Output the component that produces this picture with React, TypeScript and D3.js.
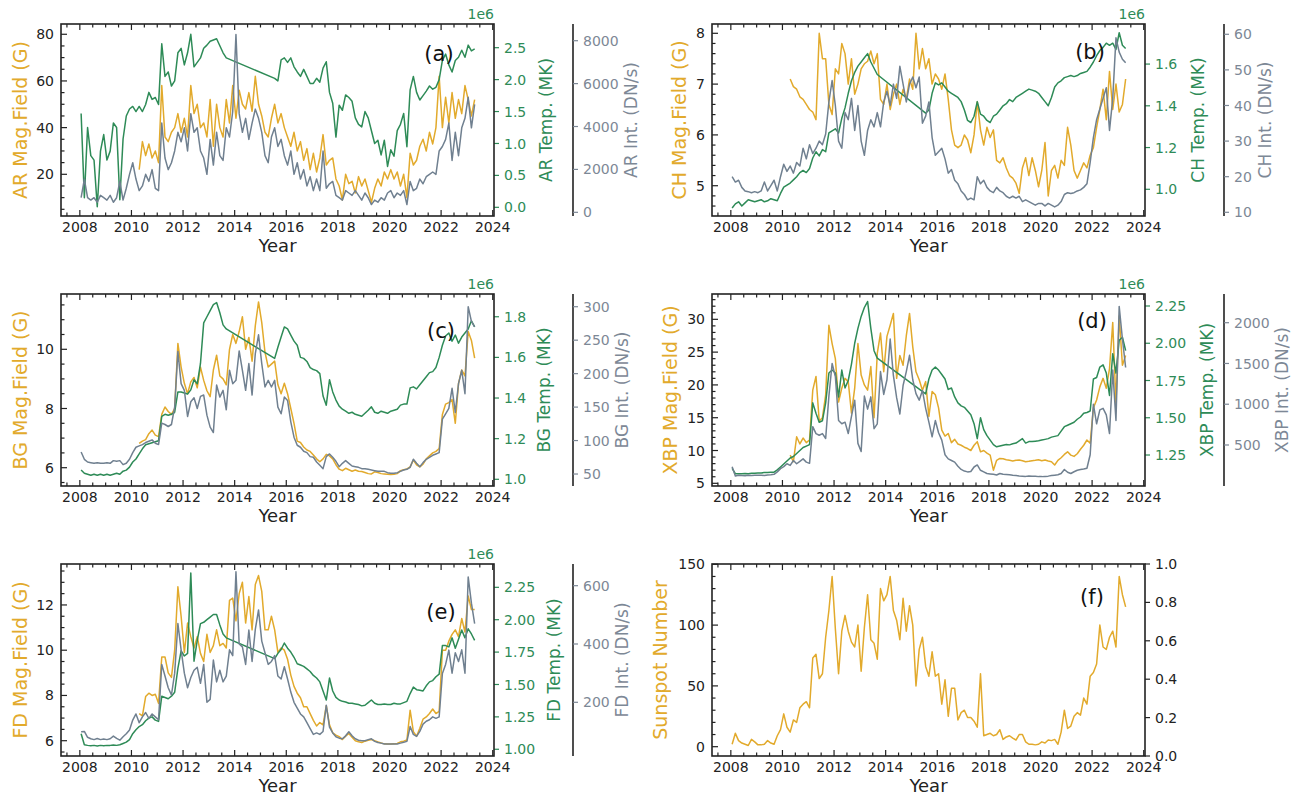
import React from 'react';
import * as d3 from 'd3';

// every series is sampled on the same 1.5-month grid
const T0 = 2008.05;
const MAG_T0 = 2010.3;
const STEP = 0.125;

const yearTicks = [2008, 2010, 2012, 2014, 2016, 2018, 2020, 2022, 2024];

// ---------- (a) active regions
const arMag = [
  22, 34, 28, 33, 27, 30,
  25, 58, 36, 34, 38, 40, 46, 38,
  44, 36, 58, 46, 50, 40, 42, 36,
  52, 32, 50, 40, 36, 52, 42, 58,
  44, 56, 50, 48, 55, 47, 62, 50,
  45, 38, 36, 44, 50, 42, 46, 40,
  36, 32, 38, 30, 34, 26, 31, 22,
  29, 21, 27, 37, 24, 26, 27, 18,
  15, 9, 20, 16, 17, 12, 19, 15,
  18, 13, 8, 14, 18, 15, 21, 18,
  22, 18, 21, 15, 20, 10, 29, 24,
  26, 32, 35, 30, 38, 33, 40, 62,
  40, 53, 42, 55, 44, 52, 46, 58,
  52, 45, 52,
];
const arTemp = [
  1.47, 0.15, 1.25, 0.81, 0.74, 0.01, 0.88, 1.14,
  0.74, 0.88, 1.32, 1.25, 0.12, 1.07, 1.43, 1.54,
  1.58, 1.5, 1.58, 1.5, 1.61, 1.8, 1.69, 1.72,
  1.61, 2.56, 2.05, 2.12, 1.9, 1.98, 2.42, 2.49,
  2.23, 2.42, 2.71, 2.2, 2.27, 2.34, 2.49, 2.54,
  2.6, 2.62, 2.64, 2.53, 2.42, 2.34, null, null,
  null, null, null, null, null, null, null, null,
  null, null, null, null, 2.02, 1.98, 2.31, 2.34,
  2.27, 2.34, 2.2, 2.12, 2.05, 2.16, 2.05, 1.94,
  1.94, 2.02, 1.96, 2.18, 2.28, 1.8, 1.63, 1.1,
  1.6, 1.52, 1.76, 1.72, 1.66, 1.4, 1.3, 1.26,
  1.5, 1.4, 1.2, 1.0, 1.05, 0.82, 1.05, 0.64,
  0.9, 0.8, 1.2, 1.3, 1.47, 0.95, 1.84, 2.05,
  1.8, 1.68, 1.75, 1.82, 1.9, 1.85, 1.88, 2.0,
  2.3, 2.4, 2.23, 2.12, 2.3, 2.35, 2.46, 2.35,
  2.54, 2.45, 2.48,
];
const arInt = [
  680, 1550, 680, 570, 680, 470, 790, 680,
  570, 790, 470, 680, 1440, 570, 1120, 1770,
  2310, 1550, 1010, 1230, 1770, 1440, 1990, 1120,
  1010, 4160, 2530, 1990, 2310, 2860, 3730, 3290,
  3940, 2860, 4600, 3730, 3940, 2860, 2530, 1770,
  3400, 2200, 3730, 2640, 2420, 3940, 3510, 4700,
  8290, 4600, 3730, 4380, 3400, 4160, 4810, 4380,
  3730, 2640, 2310, 3510, 3940, 3070, 3400, 2640,
  2200, 2860, 1770, 2310, 1550, 1990, 1230, 1660,
  1010, 1550, 1010, 2860, 1120, 1330, 1440, 790,
  680, 570, 1010, 900, 790, 1010, 790, 570,
  900, 680, 360, 570, 470, 680, 570, 900,
  1010, 680, 900, 790, 1010, 360, 1440, 1010,
  1120, 1550, 1330, 1660, 1770, 1880, 1770, 2860,
  3070, 3400, 4160, 2420, 3730, 2640, 3940, 4380,
  5360, 3940, 5030,
];

// ---------- (b) coronal holes
const chMag = [
  7.1, 6.95, 6.9, 6.75, 6.7, 6.6,
  6.5, 6.45, 6.3, 8.0, 7.5, 7.5, 6.6, 6.4,
  7.3, 7.2, 7.8, 7.6, 7.0, 7.5, 6.8, 7.0,
  7.3, 7.4, 7.45, 7.65, 7.4, 7.6, 6.7, 6.6,
  7.0, 6.5, 6.8, 7.0, 6.6, 6.9, 6.7, 7.1,
  6.9, 8.0, 7.3, 7.7, 7.3, 7.5, 7.0, 7.2,
  7.1, 6.9, 7.2, 6.7, 6.1, 5.8, 5.75, 5.8,
  6.0, 5.9, 5.65, 6.0, 6.65, 6.1, 5.8, 6.15,
  5.95, 6.1, 5.5, 5.45, 5.55, 5.35, 5.2, 5.15,
  5.05, 4.85, 5.35, 5.55, 5.2, 5.55, 5.3, 4.98,
  5.3, 5.85, 4.8, 5.3, 5.4, 5.15, 5.5, 5.4,
  6.15, 5.8, 5.3, 5.15, 5.3, 5.45, 5.35, 5.6,
  5.75, 6.15, 6.5, 6.9, 6.3, 7.25, 6.5, 7.0,
  6.45, 6.6, 7.1,
];
const chTemp = [
  0.91, 0.93, 0.94, 0.92, 0.935, 0.95, 0.945, 0.94,
  0.945, 0.95, 0.94, 0.945, 0.955, 0.95, 0.945, 0.98,
  1.01, 1.02, 1.03, 1.045, 1.06, 1.08, 1.09, 1.08,
  1.1, 1.15, 1.18, 1.16, 1.19, 1.18, 1.27, 1.28,
  1.29, 1.27, 1.34, 1.39, 1.46, 1.52, 1.56, 1.59,
  1.61, 1.63, 1.65, 1.61, 1.58, 1.55, null, null,
  null, null, null, null, null, null, null, null,
  null, null, null, null, 1.365, 1.38, 1.46, 1.51,
  1.5, 1.51, 1.49, 1.47, 1.46, 1.45, 1.44, 1.42,
  1.38, 1.33, 1.32, 1.35, 1.42, 1.36, 1.35, 1.33,
  1.32, 1.35, 1.36, 1.38, 1.4, 1.41, 1.43, 1.42,
  1.44, 1.45, 1.46, 1.47, 1.48, 1.475, 1.47, 1.46,
  1.44, 1.42, 1.4, 1.44, 1.49, 1.51, 1.52, 1.535,
  1.54, 1.545, 1.54, 1.545, 1.555, 1.56, 1.565, 1.585,
  1.61, 1.64, 1.665, 1.68, 1.7, 1.69, 1.7, 1.67,
  1.75, 1.69, 1.675,
];
const chInt = [
  20, 18.5, 19, 17, 16, 15.8, 15.5, 15.8,
  15.5, 16, 18.5, 16, 17.5, 19, 16, 20,
  23.5, 21.5, 23, 21, 24, 23, 28, 25,
  29, 26.5, 28, 30, 29, 32, 41, 47,
  40, 30, 28, 38, 36, 42, 33, 40,
  30, 26, 33, 36, 34, 38, 34, 41,
  44, 40, 46, 42, 51, 46, 41, 46,
  48, 45, 48, 35, 37, 41, 31, 26,
  27, 28, 25, 21, 22, 19, 18, 16,
  15, 13.5, 14, 13.5, 20, 18, 19, 17,
  16, 15.5, 17, 16, 15.5, 14.5, 14, 14.5,
  14, 14.5, 13, 13.5, 13, 12.5, 12, 12.5,
  12.5, 11.8, 12.5, 12, 11.5, 12, 13, 15,
  15.5, 15.3, 15.5, 16, 16.3, 17, 18, 24,
  31, 36, 39, 42, 45, 33, 42, 59,
  55, 53, 52,
];

// ---------- (c) background
const bgMag = [
  6.82, 6.9, 6.95, 7.15, 7.27, 7.1,
  7.05, 7.8, 8.05, 7.9, 7.8, 8.0, 10.2, 9.4,
  8.85, 8.5, 8.9, 9.05, 8.7, 9.4, 8.95, 8.6,
  8.4, 9.3, 9.8, 9.1, 9.0, 8.8, 10.0, 10.5,
  10.2, 10.6, 11.1, 10.0, 10.4, 9.6, 10.8, 11.6,
  10.9, 9.9, 9.4, 9.5, 9.6, 8.8, 8.5, 8.85,
  8.5, 8.0, 7.5, 6.9, 6.85, 6.7, 6.6, 6.55,
  6.43, 6.3, 6.2, 6.3, 6.45, 6.4, 6.3, 6.1,
  5.95, 5.9, 5.98, 5.93, 5.88, 5.92, 5.88, 5.87,
  5.84, 5.8, 5.79, 5.86, 5.84, 5.8, 5.79, 5.78,
  5.77, 5.78, 5.8, 5.9, 5.93, 5.96, 6.03, 6.26,
  6.1, 6.03, 6.12, 6.3, 6.4, 6.5, 6.55, 6.65,
  7.8, 8.15, 8.2, 8.3, 7.5, 8.85, 9.3, 9.1,
  10.6, 10.3, 9.7,
];
const bgTemp = [
  1.046, 1.03, 1.025, 1.02, 1.025, 1.02, 1.025, 1.02,
  1.025, 1.02, 1.025, 1.03, 1.025, 1.04, 1.045, 1.06,
  1.085, 1.1, 1.125, 1.15, 1.17, 1.175, 1.18, 1.185,
  1.19, 1.31, 1.32, 1.315, 1.32, 1.33, 1.43, 1.43,
  1.425, 1.42, 1.44, 1.49, 1.47, 1.57, 1.77, 1.8,
  1.83, 1.86, 1.87, 1.82, 1.76, 1.74, null, null,
  null, null, null, null, null, null, null, null,
  null, null, null, null, 1.595, 1.65, 1.7, 1.75,
  1.74, 1.71, 1.68, 1.66, 1.6, 1.595, 1.58, 1.55,
  1.54, 1.535, 1.52, 1.41, 1.365, 1.49, 1.43, 1.39,
  1.36, 1.345, 1.335, 1.325, 1.33, 1.32, 1.315, 1.31,
  1.325, 1.34, 1.357, 1.33, 1.325, 1.335, 1.33, 1.325,
  1.335, 1.34, 1.345, 1.365, 1.37, 1.37, 1.45, 1.455,
  1.445, 1.465, 1.485, 1.505, 1.525, 1.53, 1.55, 1.6,
  1.66, 1.705, 1.72, 1.68, 1.71, 1.67, 1.7, 1.72,
  1.74, 1.78, 1.75,
];
const bgInt = [
  83, 72, 68, 67, 66, 67, 66, 66,
  67, 66, 70, 69, 70, 64, 66, 72,
  82, 90, 92, 94, 97, 99, 101, 96,
  94, 126, 124, 121, 124, 150, 233, 185,
  175, 136, 158, 164, 148, 166, 168, 138,
  120, 112, 183, 165, 175, 146, 205, 185,
  190, 234, 205, 175, 215, 168, 230, 258,
  215, 180, 190, 180, 190, 150, 140, 165,
  160, 128, 105, 93, 90, 84, 82, 76,
  75, 68, 63, 58, 76, 80, 75, 69,
  61, 66, 70, 66, 62, 61, 60, 58,
  58, 57, 56, 55, 54, 54, 54, 52,
  51, 51, 52, 54, 56, 57, 60, 72,
  66, 61, 67, 72, 75, 78, 80, 82,
  132, 140, 148, 178, 142, 185, 205, 170,
  300, 278, 270,
];

// ---------- (d) X-ray bright points
const xbpMag = [
  9.3, 8.3, 12.1, 11.0, 11.9, 11.2,
  11.6, 19.2, 21.3, 14.5, 15.0, 18.5, 29.1, 26.3,
  24.0, 17.4, 19.5, 21.0, 20.5, 15.7, 19.5, 26.3,
  21.5, 20.0, 19.2, 22.8, 15.0, 24.8, 27.9, 22.0,
  27.4, 29.1, 30.9, 21.0, 24.5, 23.0, 27.5, 30.9,
  25.8, 22.0, 20.8, 19.2, 20.5, 15.2, 19.0, 18.5,
  16.5, 13.1, 12.2, 12.6, 11.2, 11.7, 11.0, 10.8,
  10.5, 10.3, 10.0, 10.8, 11.35, 9.8, 10.0, 9.6,
  9.3, 7.0, 8.5, 8.8, 8.75, 8.6, 8.5, 8.4,
  8.5, 8.55, 8.45, 8.3, 8.35, 8.45, 8.5, 8.6,
  8.45, 8.55, 8.4, 8.3, 7.8, 8.5, 8.9, 9.4,
  9.8, 9.3, 9.1, 9.5, 10.2, 10.8, 11.6, 11.1,
  16.5, 17.7, 19.7, 21.0, 19.5, 22.5, 29.5, 17.2,
  30.5, 23.0, 24.5,
];
const xbpTemp = [
  1.16, 1.125, 1.125, 1.125, 1.126, 1.125, 1.127, 1.128,
  1.13, 1.13, 1.132, 1.133, 1.135, 1.135, 1.15, 1.17,
  1.19, 1.21, 1.23, 1.24, 1.26, 1.28, 1.3, 1.31,
  1.32, 1.6, 1.53, 1.47, 1.48, 1.6, 1.8, 1.82,
  1.8, 1.64, 1.82, 1.7, 1.75, 1.86, 2.0, 2.1,
  2.18, 2.24, 2.28, 2.1, 1.95, 1.9, null, null,
  null, null, null, null, null, null, null, null,
  null, null, null, null, 1.66, 1.76, 1.82, 1.84,
  1.82, 1.79, 1.76, 1.69, 1.7, 1.64, 1.6, 1.58,
  1.57, 1.545, 1.52, 1.46, 1.36, 1.5, 1.42, 1.38,
  1.35, 1.32, 1.305, 1.31, 1.315, 1.32, 1.318, 1.325,
  1.33, 1.345, 1.36, 1.33, 1.34, 1.34, 1.343, 1.345,
  1.35, 1.355, 1.36, 1.37, 1.375, 1.38, 1.41, 1.44,
  1.45, 1.46, 1.47, 1.49, 1.505, 1.53, 1.535, 1.545,
  1.76, 1.77, 1.84, 1.855, 1.8, 1.65, 1.93, 1.8,
  2.02, 2.04, 1.95,
];
const xbpInt = [
  234, 120, 130, 125, 122, 128, 125, 130,
  128, 130, 126, 132, 135, 140, 170, 210,
  234, 270, 250, 310, 270, 300, 330, 290,
  275, 725, 640, 620, 640, 580, 1100, 1500,
  1340, 800, 760, 780, 640, 850, 1050, 520,
  420, 1100, 940, 1090, 700, 760, 1400, 1120,
  1300, 1800, 1350, 1080, 880, 1230, 1400, 1600,
  1300, 1130, 1050, 1170, 950, 780, 600, 800,
  650, 560, 380, 330, 310, 290, 240, 200,
  180, 170, 175, 230, 255, 190, 170, 150,
  145, 140, 132, 150, 140, 138, 135, 128,
  125, 120, 118, 115, 120, 117, 118, 112,
  112, 115, 118, 125, 130, 135, 150, 200,
  165, 150, 172, 190, 200, 205, 215, 380,
  1000, 760, 930, 950, 870, 640, 1420, 800,
  2200, 1800, 1450,
];

// ---------- (e) full disk
const fdMag = [
  7.2, 7.1, 7.95, 8.1, 8.0, 8.05,
  7.65, 9.7, 9.7, 9.0, 8.8, 10.0, 12.8, 11.5,
  9.9, 11.2, 10.6, 10.1, 10.6, 9.86, 9.5, 10.7,
  9.9, 10.2, 10.9, 10.2, 10.3, 10.1, 12.2, 12.3,
  11.3, 12.5, 13.0, 11.2, 12.37, 10.9, 12.9, 13.3,
  12.6, 10.9, 10.9, 11.5, 10.9, 9.9, 10.1, 10.0,
  9.6, 8.9, 8.4, 8.1, 7.9, 7.5, 7.5, 7.2,
  6.9, 6.65, 6.8, 6.7, 7.55, 6.7, 6.35, 6.25,
  6.18, 6.05, 6.2, 6.32, 6.15, 6.0, 5.95, 5.92,
  5.98, 6.02, 6.05, 6.0, 5.95, 5.9, 5.86, 5.85,
  5.85, 5.86, 5.88, 5.95, 5.98, 6.03, 7.35, 6.4,
  6.2, 6.55, 6.95, 7.05, 7.2, 7.4, 7.2, 7.3,
  10.0, 10.0, 10.4, 10.7, 10.9, 10.6, 11.4, 10.8,
  12.4, 11.8, 11.8,
];
const fdTemp = [
  1.12, 1.035, 1.03, 1.028, 1.03, 1.025, 1.03, 1.028,
  1.03, 1.03, 1.032, 1.03, 1.035, 1.045, 1.055, 1.075,
  1.12, 1.15, 1.175, 1.19, 1.22, 1.24, 1.25, 1.225,
  1.215, 1.41, 1.4, 1.39, 1.41, 1.44, 1.625, 1.76,
  1.72, 1.74, 2.36, 1.68, 1.84, 1.97, 1.98, 2.0,
  2.02, 2.04, 2.04, 1.96, 1.89, 1.86, null, null,
  null, null, null, null, null, null, null, null,
  null, null, null, null, 1.7, 1.74, 1.77, 1.82,
  1.78, 1.75, 1.71, 1.66, 1.65, 1.64, 1.62, 1.6,
  1.57, 1.55, 1.52, 1.45, 1.38, 1.55, 1.45, 1.4,
  1.38, 1.37, 1.365, 1.355, 1.355, 1.35, 1.345, 1.335,
  1.34, 1.36, 1.38, 1.355, 1.345, 1.345, 1.35, 1.345,
  1.345, 1.355, 1.35, 1.35, 1.36, 1.37, 1.43, 1.48,
  1.46, 1.455, 1.45, 1.49, 1.52, 1.53, 1.56, 1.58,
  1.8, 1.8, 1.79, 1.86, 1.78, 1.85, 1.92, 1.86,
  1.93, 1.89, 1.84,
];
const fdInt = [
  99, 100, 80, 75, 72, 76, 72, 74,
  72, 75, 84, 76, 70, 82, 92, 105,
  139, 160, 130, 150, 165, 145, 160, 150,
  140, 330, 290, 250, 225, 300, 470, 380,
  300, 250, 285, 310, 320, 265, 330, 200,
  210, 345, 270, 310, 270, 290, 380, 360,
  648, 400, 390, 330, 448, 340, 450, 517,
  410, 370, 330, 340, 360, 290, 280, 322,
  280, 235, 200, 180, 160, 150, 130, 110,
  90, 95, 90, 100, 190, 115, 95, 82,
  77, 75, 85, 99, 85, 75, 70, 68,
  68, 72, 75, 66, 62, 60, 57, 57,
  57, 57, 57, 60, 63, 66, 117, 90,
  83, 100, 125, 135, 140, 150, 145, 150,
  299, 330, 379, 300, 370, 340, 380, 300,
  630, 540, 470,
];

// ---------- (f) sunspot number
const sunspot = [
  2, 11, 5, 3, 2, 1, 6, 4,
  1.5, 1.5, 2, 5, 3, 2, 9, 14,
  27, 16, 12, 22, 20, 32, 35, 37,
  32, 73, 76, 56, 60, 90, 112, 140,
  97, 60, 95, 108, 95, 86, 82, 100,
  62, 98, 125, 88, 85, 72, 130, 120,
  125, 140, 112, 104, 88, 122, 95, 116,
  100, 50, 80, 90, 66, 58, 78, 58,
  60, 35, 55, 25, 48, 48, 22, 28,
  30, 24, 24, 21, 16, 60, 9, 10,
  11, 9, 10, 14, 6, 8, 9, 7,
  5.5, 10, 10, 4, 2, 2, 1.5, 2,
  4, 3, 5.5, 5, 6, 2, 12, 30,
  15, 17, 25, 28, 26, 40, 35, 58,
  61, 68, 100, 82, 80, 90, 95, 82,
  140, 125, 115,
];

const YELLOW = '#e2aa2c';
const GREEN = '#2e8b57';
const GRAY = '#708090';
const GRAY_TXT = '#7d8896';
const INK = '#222';
const FONT = '"DejaVu Sans", Verdana, sans-serif';

const PW = 433;
const PH = 192;
const X_DOMAIN = [2007.27, 2024.05];
const INT_OFFSET = 79;

const panels = [
  {
    id: 'a', x0: 61, y0: 24, mag: arMag, magT0: MAG_T0, temp: arTemp, int: arInt,
    magLabel: 'AR Mag.Field (G)', tempLabel: 'AR Temp. (MK)', intLabel: 'AR Int. (DN/s)',
    magDomain: [2.13, 84.4], magTicks: [20, 40, 60, 80], magMinor: 5,
    tempDomain: [-0.136, 2.871], tempTicks: [0, 0.5, 1, 1.5, 2, 2.5], tempFmt: '.1f',
    intDomain: [-172, 8779], intTicks: [0, 2000, 4000, 6000, 8000],
    magDx: 41, tempDx: 52, intDx: 58, tag: '(a)', tagDx: 378, tagDy: 30,
  },
  {
    id: 'b', x0: 712, y0: 24, mag: chMag, magT0: MAG_T0, temp: chTemp, int: chInt,
    magLabel: 'CH Mag.Field (G)', tempLabel: 'CH Temp. (MK)', intLabel: 'CH Int. (DN/s)',
    magDomain: [4.404, 8.183], magTicks: [5, 6, 7, 8], magMinor: 0.2,
    tempDomain: [0.872, 1.792], tempTicks: [1.0, 1.2, 1.4, 1.6], tempFmt: '.1f',
    intDomain: [8.96, 62.89], intTicks: [10, 20, 30, 40, 50, 60],
    magDx: 33, tempDx: 53, intDx: 41, tag: '(b)', tagDx: 378, tagDy: 28,
  },
  {
    id: 'c', x0: 61, y0: 294, mag: bgMag, magT0: MAG_T0, temp: bgTemp, int: bgInt,
    magLabel: 'BG Mag.Field (G)', tempLabel: 'BG Temp. (MK)', intLabel: 'BG Int. (DN/s)',
    magDomain: [5.382, 11.868], magTicks: [6, 8, 10], magMinor: 0.5,
    tempDomain: [0.967, 1.912], tempTicks: [1.0, 1.2, 1.4, 1.6, 1.8], tempFmt: '.1f',
    intDomain: [32.1, 319], intTicks: [50, 100, 150, 200, 250, 300],
    magDx: 41, tempDx: 50, intDx: 49, tag: '(c)', tagDx: 380, tagDy: 37,
  },
  {
    id: 'd', x0: 712, y0: 294, mag: xbpMag, magT0: MAG_T0, temp: xbpTemp, int: xbpInt,
    magLabel: 'XBP Mag.Field (G)', tempLabel: 'XBP Temp. (MK)', intLabel: 'XBP Int. (DN/s)',
    magDomain: [4.59, 33.86], magTicks: [5, 10, 15, 20, 25, 30], magMinor: 1,
    tempDomain: [1.042, 2.3305], tempTicks: [1.25, 1.5, 1.75, 2.0, 2.25], tempFmt: '.2f',
    intDomain: [-3, 2352], intTicks: [500, 1000, 1500, 2000],
    magDx: 42, tempDx: 62, intDx: 58, tag: '(d)', tagDx: 380, tagDy: 27,
  },
  {
    id: 'e', x0: 61, y0: 564, mag: fdMag, magT0: MAG_T0, temp: fdTemp, int: fdInt,
    magLabel: 'FD Mag.Field (G)', tempLabel: 'FD Temp. (MK)', intLabel: 'FD Int. (DN/s)',
    magDomain: [5.324, 13.81], magTicks: [6, 8, 10, 12], magMinor: 0.5,
    tempDomain: [0.948, 2.43], tempTicks: [1.0, 1.25, 1.5, 1.75, 2.0, 2.25], tempFmt: '.2f',
    intDomain: [15.8, 674.4], intTicks: [200, 400, 600],
    magDx: 41, tempDx: 60, intDx: 49, tag: '(e)', tagDx: 380, tagDy: 48,
  },
  {
    id: 'f', x0: 712, y0: 564, mag: sunspot, magT0: T0, temp: null, int: null,
    magLabel: 'Sunspot Number', tempLabel: '', intLabel: '',
    magDomain: [-7.65, 150.25], magTicks: [0, 50, 100, 150], magMinor: 10,
    rightDomain: [0, 1.0], rightTicks: [0, 0.2, 0.4, 0.6, 0.8, 1.0],
    magDx: 52, tag: '(f)', tagDx: 380, tagDy: 33,
  },
];

const minorTicks = (domain: number[], step: number, majors: number[]) => {
  const out: number[] = [];
  const start = Math.ceil(domain[0] / step);
  const end = Math.floor(domain[1] / step);
  for (let k = start; k <= end; k++) {
    const v = k * step;
    if (!majors.some(m => Math.abs(m - v) < 1e-6)) out.push(v);
  }
  return out;
};

const points = (vals: (number | null)[], t0: number) =>
  vals
    .map((v, i) => [t0 + i * STEP, v] as [number, number | null])
    .filter(d => d[1] !== null) as [number, number][];

function Panel({ p }: { p: any }) {
  const left = p.x0;
  const top = p.y0;
  const right = p.x0 + PW;
  const bottom = p.y0 + PH;
  const x = d3.scaleLinear().domain(X_DOMAIN).range([left, right]);
  const yM = d3.scaleLinear().domain(p.magDomain).range([bottom, top]);
  const yT = p.temp ? d3.scaleLinear().domain(p.tempDomain).range([bottom, top]) : null;
  const yI = p.int ? d3.scaleLinear().domain(p.intDomain).range([bottom, top]) : null;
  const yR = p.rightDomain ? d3.scaleLinear().domain(p.rightDomain).range([bottom, top]) : null;

  const path = (sc: any, vals: any, t0: number) =>
    d3.line<[number, number]>().x(d => x(d[0])).y(d => sc(d[1]))(points(vals, t0)) || '';

  const xMinor = minorTicks(X_DOMAIN, 0.5, yearTicks);
  const yMinor = minorTicks(p.magDomain, p.magMinor, p.magTicks);
  const clipId = `clip-${p.id}`;
  const intX = right + INT_OFFSET;
  const midY = (top + bottom) / 2;
  const tempFmt = p.tempFmt ? d3.format(p.tempFmt) : null;

  return (
    <g>
      <clipPath id={clipId}>
        <rect x={left} y={top} width={PW} height={PH} />
      </clipPath>
      <g clipPath={`url(#${clipId})`} fill="none" strokeWidth={1.5} strokeLinejoin="round">
        <path d={path(yM, p.mag, p.magT0)} stroke={YELLOW} />
        {yT && <path d={path(yT, p.temp, T0)} stroke={GREEN} />}
        {yI && <path d={path(yI, p.int, T0)} stroke={GRAY} />}
      </g>

      {/* x ticks, inward on bottom and top */}
      <g stroke={INK} strokeWidth={1.2}>
        {yearTicks.map(t => (
          <g key={`xt${t}`}>
            <line x1={x(t)} x2={x(t)} y1={bottom} y2={bottom - 6} />
            <line x1={x(t)} x2={x(t)} y1={top} y2={top + 6} />
          </g>
        ))}
        {xMinor.map(t => (
          <g key={`xm${t}`}>
            <line x1={x(t)} x2={x(t)} y1={bottom} y2={bottom - 3.5} />
            <line x1={x(t)} x2={x(t)} y1={top} y2={top + 3.5} />
          </g>
        ))}
        {p.magTicks.map((t: number) => (
          <line key={`yt${t}`} x1={left} x2={left + 6} y1={yM(t)} y2={yM(t)} />
        ))}
        {yMinor.map(t => (
          <line key={`ym${t}`} x1={left} x2={left + 3.5} y1={yM(t)} y2={yM(t)} />
        ))}
      </g>
      <g fontFamily={FONT} fontSize={14} fill={INK}>
        {yearTicks.map(t => (
          <text key={`xl${t}`} x={x(t)} y={bottom + 16} textAnchor="middle">{t}</text>
        ))}
        {p.magTicks.map((t: number) => (
          <text key={`yl${t}`} x={left - 7} y={yM(t)} dy="0.36em" textAnchor="end">{t}</text>
        ))}
      </g>
      <text x={(left + right) / 2} y={bottom + 36} textAnchor="middle" fontFamily={FONT} fontSize={18} fill={INK}>Year</text>
      <text transform={`translate(${left - p.magDx},${midY}) rotate(-90)`} textAnchor="middle" dominantBaseline="central"
        fontFamily={FONT} fontSize={19} fill={YELLOW}>{p.magLabel}</text>

      {yT && (
        <g>
          <g stroke={GREEN} strokeWidth={1.2}>
            {p.tempTicks.map((t: number) => (
              <line key={`tt${t}`} x1={right} x2={right + 5} y1={yT(t)} y2={yT(t)} />
            ))}
          </g>
          <g fontFamily={FONT} fontSize={14} fill={GREEN}>
            {p.tempTicks.map((t: number) => (
              <text key={`tl${t}`} x={right + 10} y={yT(t)} dy="0.36em">{tempFmt!(t)}</text>
            ))}
            <text x={right} y={top - 5} textAnchor="end">1e6</text>
          </g>
          <text transform={`translate(${right + p.tempDx},${midY}) rotate(-90)`} textAnchor="middle" dominantBaseline="central"
            fontFamily={FONT} fontSize={17} fill={GREEN}>{p.tempLabel}</text>
        </g>
      )}

      {yI && (
        <g>
          <line x1={intX} x2={intX} y1={top} y2={bottom} stroke={INK} strokeWidth={1.6} />
          <g stroke={GRAY_TXT} strokeWidth={1.2}>
            {p.intTicks.map((t: number) => (
              <line key={`it${t}`} x1={intX} x2={intX + 5} y1={yI(t)} y2={yI(t)} />
            ))}
          </g>
          <g fontFamily={FONT} fontSize={14} fill={GRAY_TXT}>
            {p.intTicks.map((t: number) => (
              <text key={`il${t}`} x={intX + 10} y={yI(t)} dy="0.36em">{t}</text>
            ))}
          </g>
          <text transform={`translate(${intX + p.intDx},${midY}) rotate(-90)`} textAnchor="middle" dominantBaseline="central"
            fontFamily={FONT} fontSize={17} fill={GRAY_TXT}>{p.intLabel}</text>
        </g>
      )}

      {yR && (
        <g>
          <g stroke={INK} strokeWidth={1.2}>
            {p.rightTicks.map((t: number) => (
              <line key={`rt${t}`} x1={right} x2={right + 5} y1={yR(t)} y2={yR(t)} />
            ))}
          </g>
          <g fontFamily={FONT} fontSize={14} fill={INK}>
            {p.rightTicks.map((t: number) => (
              <text key={`rl${t}`} x={right + 10} y={yR(t)} dy="0.36em">{d3.format('.1f')(t)}</text>
            ))}
          </g>
        </g>
      )}

      <rect x={left} y={top} width={PW} height={PH} fill="none" stroke={INK} strokeWidth={1.6} />
      <text x={left + p.tagDx} y={top + p.tagDy} textAnchor="middle" dominantBaseline="central"
        fontFamily={FONT} fontSize={21} fill="#111">{p.tag}</text>
    </g>
  );
}

export default function App() {
  return (
    <svg width={1310} height={800} style={{ position: 'absolute', left: 0, top: 0, background: '#fff' }}>
      <rect width={1310} height={800} fill="#fff" />
      {panels.map(p => <Panel key={p.id} p={p} />)}
    </svg>
  );
}
